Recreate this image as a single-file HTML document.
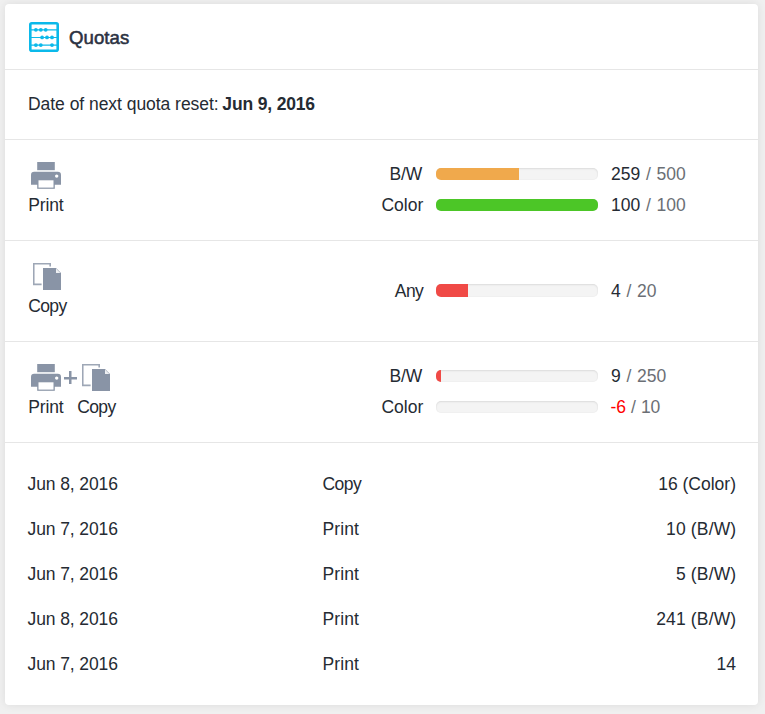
<!DOCTYPE html>
<html>
<head>
<meta charset="utf-8">
<style>
html,body{margin:0;padding:0;}
body{width:765px;height:714px;background:#f0f0f0;font-family:"Liberation Sans",sans-serif;color:#252b33;overflow:hidden;position:relative;}
.card{position:absolute;left:5px;top:4px;width:753px;height:701px;background:#fff;border-radius:4px;box-shadow:0 0 9px rgba(0,0,0,0.085);}
.hdr{position:absolute;left:0;top:0;width:753px;height:65px;border-bottom:1px solid #e6e6e6;}
.hdr svg{position:absolute;left:24px;top:18px;}
.title{position:absolute;left:64px;top:22.7px;font-size:18.6px;font-weight:normal;color:#2b3242;-webkit-text-stroke:0.55px #2b3242;line-height:22px;letter-spacing:0.05px;}
.sec{position:absolute;left:0;width:753px;border-bottom:1px solid #e6e6e6;}
.t{position:absolute;font-size:17.5px;line-height:20px;white-space:nowrap;}
.ic{position:absolute;}
.plus{position:absolute;left:59px;top:29.3px;width:13px;height:13px;background:linear-gradient(#8994a6,#8994a6) 50% 50%/13px 2.5px no-repeat,linear-gradient(#8994a6,#8994a6) 50% 50%/2.5px 13px no-repeat;}
.lbl{text-align:right;width:100px;left:318.3px;}
.bar{position:absolute;left:431px;width:162px;height:12px;border-radius:5px;background:#f4f4f4;box-shadow:inset 0 1px 2px rgba(0,0,0,0.09), inset 0 0 1px 1px rgba(0,0,0,0.015);overflow:hidden;}
.bar i{display:block;height:12px;}
.val{left:606px;word-spacing:0.9px;}
.g{color:#6b6f75;}
.r{color:#ff0000;}
.right{text-align:right;width:200px;left:531px;}
</style>
</head>
<body>
<svg width="0" height="0" style="position:absolute">
<defs>
<symbol id="ic-print" viewBox="0 0 30 27">
<rect x="6.2" y="0" width="17.6" height="8.2" fill="#8994a6"/>
<path d="M0 22.8V13a3.2 3.2 0 0 1 3.2-3.2h23.6a3.2 3.2 0 0 1 3.2 3.2v9.8z" fill="#8994a6"/>
<rect x="6.2" y="17" width="17.6" height="9.8" fill="#8994a6"/>
<rect x="7.5" y="18.3" width="15" height="7.3" fill="#fff"/>
<circle cx="25.7" cy="14.1" r="1.7" fill="#fff"/>
</symbol>
<symbol id="ic-copy" viewBox="0 0 28 27">
<path d="M17.2 3.6V0.75H0.75V21.4H8.6" fill="none" stroke="#9ea7b6" stroke-width="1.6"/>
<path d="M10 5h13l5 5v17H10z" fill="#8994a6"/>
<path d="M23 5.6v4.4h4.4z" fill="#eef0f3"/>
</symbol>
</defs></svg>
<div class="card">
  <div class="hdr">
    <svg width="30" height="30" viewBox="0 0 30 30"><rect x="1.3" y="1.3" width="27.4" height="27.4" rx="1.5" fill="none" stroke="#0bb9ea" stroke-width="2.6"/><path d="M2 7.8h26M2 15.45h26M2 23.1h26" stroke="#0bb9ea" stroke-width="1.15"/><g fill="#0bb9ea"><circle cx="6.9" cy="7.8" r="1.9"/><circle cx="11.8" cy="7.8" r="1.9"/><circle cx="16.7" cy="7.8" r="1.9"/><circle cx="13.1" cy="15.45" r="1.9"/><circle cx="18" cy="15.45" r="1.9"/><circle cx="23" cy="15.45" r="1.9"/><circle cx="6.9" cy="23.1" r="1.9"/><circle cx="11.8" cy="23.1" r="1.9"/><circle cx="23" cy="23.1" r="1.9"/></g></svg>
    <div class="title">Quotas</div>
  </div>
  <div class="sec" style="top:66px;height:69px;">
    <div class="t" style="left:23px;top:24px;letter-spacing:-0.04px;">Date of next quota reset:<b style="margin-left:3.7px;letter-spacing:-0.16px;">Jun 9, 2016</b></div>
  </div>
  <div class="sec" style="top:136px;height:100px;">
    <svg class="ic" style="left:26px;top:22px" width="30" height="27"><use href="#ic-print"/></svg>
    <div class="t" style="left:23.2px;top:55px;letter-spacing:-0.15px;">Print</div>
    <div class="t lbl" style="top:24px;left:317.3px;letter-spacing:-0.1px">B/W</div>
    <div class="bar" style="top:28px;"><i style="width:83px;background:#f0a94c;"></i></div>
    <div class="t val" style="top:24px;">259 <span class="g">/ 500</span></div>
    <div class="t lbl" style="top:55px;">Color</div>
    <div class="bar" style="top:59px;"><i style="width:162px;background:#4cc627;"></i></div>
    <div class="t val" style="top:55px;">100 <span class="g">/ 100</span></div>
  </div>
  <div class="sec" style="top:237px;height:100px;">
    <svg class="ic" style="left:28px;top:21.7px" width="28" height="27"><use href="#ic-copy"/></svg>
    <div class="t" style="left:23.2px;top:55px;letter-spacing:-0.6px;">Copy</div>
    <div class="t lbl" style="top:40px;letter-spacing:-0.6px;left:318.2px">Any</div>
    <div class="bar" style="top:43px;height:13px;"><i style="height:13px;width:32px;background:#f04a46;"></i></div>
    <div class="t val" style="top:40px;">4 <span class="g">/ 20</span></div>
  </div>
  <div class="sec" style="top:338px;height:100px;">
    <svg class="ic" style="left:26px;top:22px" width="30" height="27"><use href="#ic-print"/></svg>
    <div class="plus"></div>
    <svg class="ic" style="left:77.2px;top:22px" width="28" height="27"><use href="#ic-copy"/></svg>
    <div class="t" style="left:23.2px;top:55px;letter-spacing:-0.15px;">Print</div>
    <div class="t" style="left:72.2px;top:55px;letter-spacing:-0.6px;">Copy</div>
    <div class="t lbl" style="top:24px;left:317.3px;letter-spacing:-0.1px">B/W</div>
    <div class="bar" style="top:28px;"><i style="width:5px;background:#f04a46;"></i></div>
    <div class="t val" style="top:24px;">9 <span class="g">/ 250</span></div>
    <div class="t lbl" style="top:55px;">Color</div>
    <div class="bar" style="top:59px;"></div>
    <div class="t val" style="top:55px;left:605.5px;letter-spacing:-0.15px;word-spacing:0.5px"><span class="r">-6</span> <span class="g">/ 10</span></div>
  </div>
  <div class="row">
    <div class="t" style="left:22.6px;top:470px;letter-spacing:-0.12px;">Jun 8, 2016</div><div class="t" style="left:317.5px;top:470px;letter-spacing:-0.55px;">Copy</div><div class="t right" style="top:470px;">16 (Color)</div>
    <div class="t" style="left:22.6px;top:515px;letter-spacing:-0.12px;">Jun 7, 2016</div><div class="t" style="left:317.6px;top:515px;letter-spacing:0.05px;">Print</div><div class="t right" style="top:515px;left:531.3px;letter-spacing:0.15px;">10 (B/W)</div>
    <div class="t" style="left:22.6px;top:560px;letter-spacing:-0.12px;">Jun 7, 2016</div><div class="t" style="left:317.6px;top:560px;letter-spacing:0.05px;">Print</div><div class="t right" style="top:560px;left:531.3px;letter-spacing:0.15px;">5 (B/W)</div>
    <div class="t" style="left:22.6px;top:605px;letter-spacing:-0.12px;">Jun 8, 2016</div><div class="t" style="left:317.6px;top:605px;letter-spacing:0.05px;">Print</div><div class="t right" style="top:605px;left:531.3px;letter-spacing:0.15px;">241 (B/W)</div>
    <div class="t" style="left:22.6px;top:650px;letter-spacing:-0.12px;">Jun 7, 2016</div><div class="t" style="left:317.6px;top:650px;letter-spacing:0.05px;">Print</div><div class="t right" style="top:650px;">14</div>
  </div>
</div>
</body>
</html>
